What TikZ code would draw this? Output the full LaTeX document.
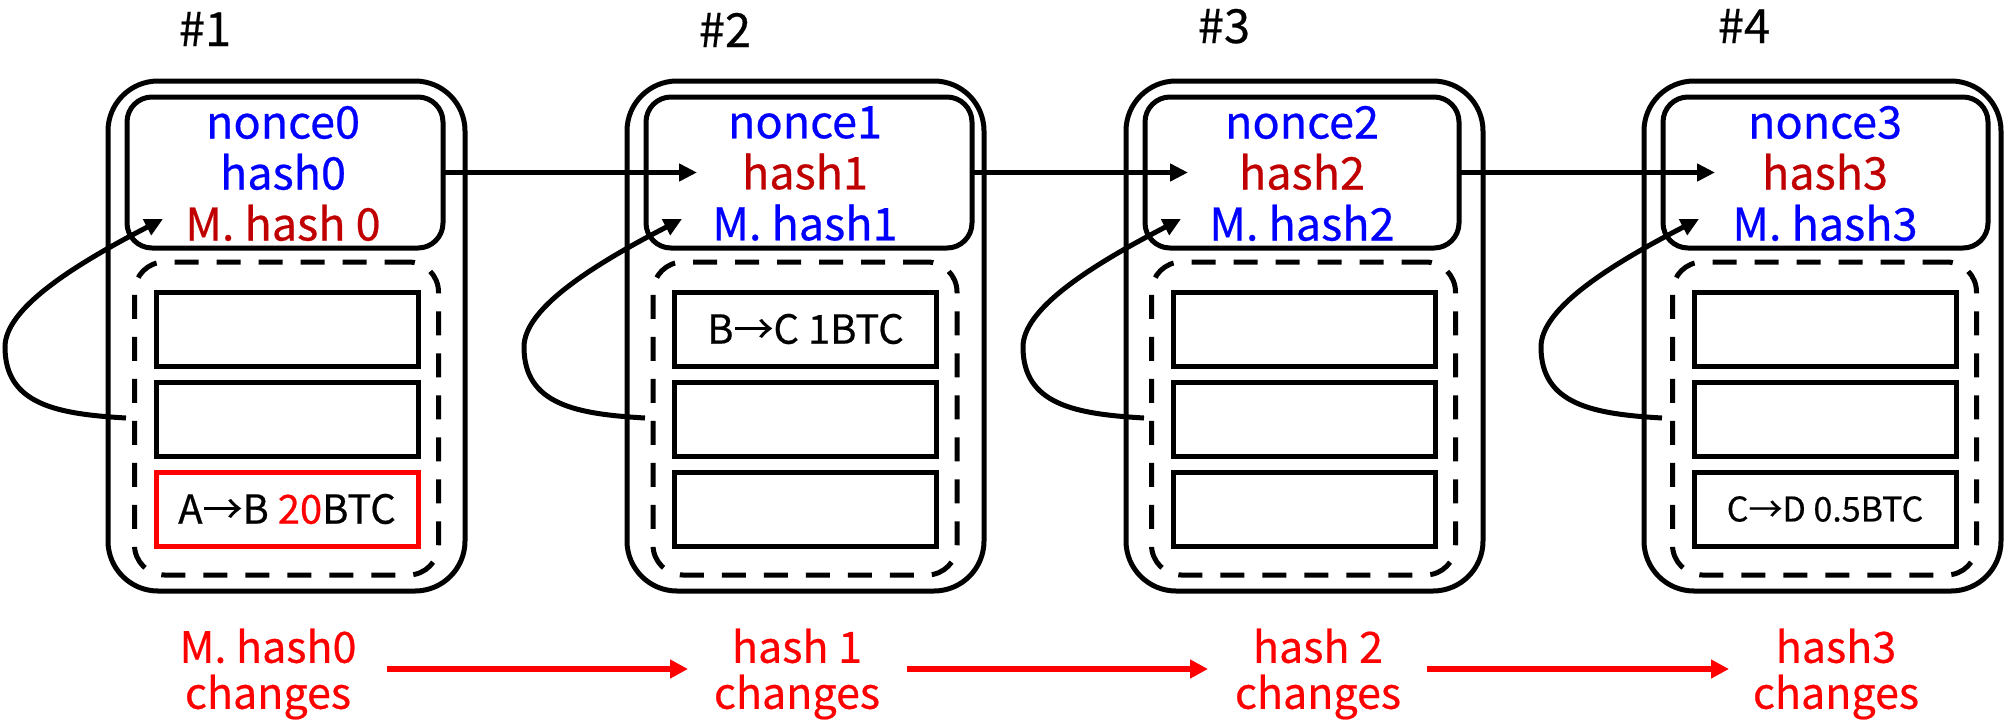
\documentclass[tikz,border=0pt]{standalone}
\usepackage{fontspec}
\setmainfont{Noto Sans CJK KR}[FakeBold=0.5]
\usetikzlibrary{arrows.meta}
\definecolor{hblue}{RGB}{0,0,255}
\definecolor{hred}{RGB}{192,0,0}
\definecolor{bred}{RGB}{255,0,0}

\begin{document}
\begin{tikzpicture}[x=1pt,y=-1pt,
  every node/.style={inner sep=0pt, outer sep=0pt},
  outerbox/.style={draw=black, line width=5pt, rounded corners=50pt, minimum width=357pt, minimum height=510pt},
  hdrbox/.style={draw=black, line width=5pt, rounded corners=25pt, minimum height=151pt},
  txgroup/.style={draw=black, line width=5pt, dash pattern=on 24pt off 18pt, rounded corners=30pt, minimum width=304pt, minimum height=313pt},
  txbox/.style={draw=black, line width=5pt, minimum width=262pt, minimum height=74pt, font=\fontsize{40}{48}\selectfont},
  hdrtext/.style={align=center, font=\fontsize{45}{51}\selectfont},
  numlabel/.style={anchor=base, text height=32pt, font=\fontsize{47}{56}\selectfont},
  changelabel/.style={align=center, text=bred, font=\fontsize{43}{46}\selectfont},
  link/.style={line width=5pt, -{Triangle[length=18pt,width=17pt]}},
  redlink/.style={draw=bred, line width=6pt, -{Triangle[length=18pt,width=18pt]}},
]
\useasboundingbox (0,0) rectangle (2006,721);

% block numbers
\node[numlabel] (n1) at (205,46) {\#1};
\node[numlabel] (n2) at (725,47) {\#2};
\node[numlabel] (n3) at (1224,43) {\#3};
\node[numlabel] (n4) at (1744,43) {\#4};

% outer block frames
\node[outerbox] (b1) at (286.5,336) {};
\node[outerbox] (b2) at (805.5,336) {};
\node[outerbox] (b3) at (1304.5,336) {};
\node[outerbox] (b4) at (1822.5,336) {};

% block headers
\node[hdrbox, minimum width=316pt] (h1) at (285,172.5) {};
\node[hdrbox, minimum width=326pt] (h2) at (809,172.5) {};
\node[hdrbox, minimum width=314pt] (h3) at (1302,172.5) {};
\node[hdrbox, minimum width=325pt] (h4) at (1825.5,172.5) {};

\node[hdrtext] (t1) at (283,173.5) {\color{hblue}nonce0\\\color{hblue}hash0\\\color{hred}M. hash 0};
\node[hdrtext] (t2) at (805,173.5) {\color{hblue}nonce1\\\color{hred}hash1\\\color{hblue}M. hash1};
\node[hdrtext] (t3) at (1302,173.5) {\color{hblue}nonce2\\\color{hred}hash2\\\color{hblue}M. hash2};
\node[hdrtext] (t4) at (1825,173.5) {\color{hblue}nonce3\\\color{hred}hash3\\\color{hblue}M. hash3};

% transaction groups
\node[txgroup] (g1) at (286.5,418.5) {};
\node[txgroup] (g2) at (805,418.5) {};
\node[txgroup] (g3) at (1303.5,418.5) {};
\node[txgroup] (g4) at (1824.5,418.5) {};

% transactions
\node[txbox] (x11) at (287,329) {};
\node[txbox] (x12) at (287,419) {};
\node[txbox, draw=bred] (x13) at (287,509) {A→B {\color{bred}20}BTC};

\node[txbox] (x21) at (805.5,329) {B→C 1BTC};
\node[txbox] (x22) at (805.5,419) {};
\node[txbox] (x23) at (805.5,509) {};

\node[txbox] (x31) at (1304,329) {};
\node[txbox] (x32) at (1304,419) {};
\node[txbox] (x33) at (1304,509) {};

\node[txbox] (x41) at (1825,329) {};
\node[txbox] (x42) at (1825,419) {};
\node[txbox, font=\fontsize{34}{40}\selectfont] (x43) at (1825,509) {C→D 0.5BTC};

% links between headers
\coordinate (p2) at (697,172.5);
\coordinate (p3) at (1188,172.5);
\coordinate (p4) at (1715,172.5);
\draw[link] (h1.east) -- (p2);
\draw[link] (h2.east) -- (p3);
\draw[link] (h3.east) -- (p4);

% merkle loops from transactions back to header
\foreach \L/\i in {108/1,627/2,1126/3,1644/4}{
  \coordinate (ls\i) at (\L+18,418);
  \coordinate (lm\i) at (\L-103,347);
  \coordinate (lt\i) at (\L+55,219);
  \draw[link] (ls\i) .. controls (\L-50,414) and (\L-103,405) .. (lm\i)
                     .. controls (\L-103,310) and (\L-40,268) .. (lt\i);
}

% change propagation
\node[changelabel] (c1) at (268,674) {M. hash0\\changes};
\node[changelabel] (c2) at (797,674) {hash 1\\changes};
\node[changelabel] (c3) at (1318,674) {hash 2\\changes};
\node[changelabel] (c4) at (1836,674) {hash3\\changes};

\coordinate (r1s) at (387,669);
\coordinate (r1e) at (688,669);
\coordinate (r2s) at (907,669);
\coordinate (r2e) at (1208,669);
\coordinate (r3s) at (1427,669);
\coordinate (r3e) at (1729,669);
\draw[redlink] (r1s) -- (r1e);
\draw[redlink] (r2s) -- (r2e);
\draw[redlink] (r3s) -- (r3e);
\end{tikzpicture}
\end{document}
